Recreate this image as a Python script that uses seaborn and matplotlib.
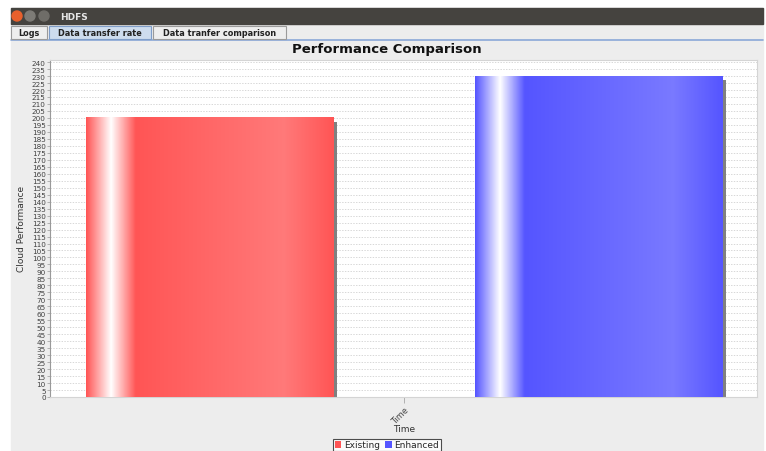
import numpy as np
import pandas as pd
import matplotlib
matplotlib.use("Agg")
import matplotlib.pyplot as plt
import seaborn as sns
from matplotlib.patches import Rectangle, Circle
from matplotlib.lines import Line2D
from matplotlib.transforms import offset_copy

# chart data
categories = ["Time"]
series = ["Existing", "Enhanced"]
values = [200, 230]
y_ticks = list(range(0, 245, 5))

red = "#ff5555"
blue = "#5555ff"

sns.set_style("white")
plt.rcParams['font.family'] = ['DejaVu Sans']

fig = plt.figure(figsize=(7.66, 4.52), dpi=100)
fig.patch.set_facecolor("white")

# window chrome, drawn in pixel coordinates
bg = fig.add_axes([0, 0, 1, 1])
bg.set_xlim(0, 766)
bg.set_ylim(452, 0)
bg.axis("off")
bg.add_patch(Rectangle((11, 9), 752, 450, color="#ededed", zorder=0))
bg.add_patch(Rectangle((11, 9), 752, 16, color="#45433f", zorder=1))
bg.add_patch(Circle((17, 17), 5, color="#e8602c", zorder=2))
bg.add_patch(Circle((30, 17), 5, color="#7d7b76", zorder=2))
bg.add_patch(Circle((44, 17), 5, color="#6f6d68", zorder=2))
bg.text(60, 17.5, "HDFS", color="#e6e6e6", fontsize=6.5, fontweight="bold",
        va="center", ha="left", zorder=3)

tabs = [("Logs", 11, 47, False), ("Data transfer rate", 49, 151, True),
        ("Data tranfer comparison", 153, 286, False)]
for label, x0, x1, sel in tabs:
    bg.add_patch(Rectangle((x0, 27), x1 - x0, 13,
                           facecolor="#cddcee" if sel else "#eeeeee",
                           edgecolor="#7f9dc8" if sel else "#9a9a9a",
                           lw=0.8, zorder=2))
    bg.text((x0 + x1) / 2, 33.5, label, fontsize=5.9, fontweight="bold",
            color="#222222", ha="center", va="center", zorder=3)
bg.add_line(Line2D([11, 763], [40.5, 40.5], color="#8aa8d8", lw=1.2, zorder=1))

# plot area
ax = fig.add_axes([50 / 766, 1 - 398 / 452, 707 / 766, 337 / 452])
ax.set_facecolor("white")

df = pd.DataFrame({"category": categories * len(series),
                   "series": series,
                   "value": values})

sns.barplot(data=df, x="category", y="value", hue="series", hue_order=series,
            palette=[red, blue], width=0.8, gap=0.365, saturation=1,
            legend=False, ax=ax, zorder=3, linewidth=0)

# gradient fill and shadow on each bar
stops = [0, 0.1, 0.2, 0.8, 1.0]
for patch, base in zip(ax.patches, [red, blue]):
    c0 = np.array(matplotlib.colors.to_rgb(base))
    c1 = np.minimum(c0 / 0.7, 1.0)
    white = np.ones(3)
    cols = np.array([c0, white, c0, c1, c0])
    t = np.linspace(0, 1, 300)
    grad = np.stack([np.interp(t, stops, cols[:, k]) for k in range(3)], axis=-1)
    x0, w, h = patch.get_x(), patch.get_width(), patch.get_height()
    ax.imshow(grad[None, :, :], extent=[x0, x0 + w, 0, h], aspect="auto",
              interpolation="bilinear", zorder=4)
    shadow_tr = offset_copy(ax.transData, fig=fig, x=4, y=-4, units="dots")
    ax.add_patch(Rectangle((x0, 0), w, h, transform=shadow_tr,
                           facecolor="#808080", lw=0, zorder=2.5))

ax.set_xlim(-0.364, 0.363)
ax.set_ylim(0, 241.5)
ax.set_aspect("auto")

ax.set_yticks(y_ticks)
ax.set_yticklabels([str(v) for v in y_ticks])
ax.tick_params(axis="y", labelsize=5.2, colors="#999999", length=2, width=0.5,
               pad=1, left=True)
ax.set_xticks([0])
ax.set_xticklabels(categories, rotation=45, ha="right", rotation_mode="anchor",
                   fontsize=5.8)
ax.tick_params(axis="x", length=4, width=0.5, colors="#999999", pad=2, bottom=True)
for lbl in ax.get_xticklabels() + ax.get_yticklabels():
    lbl.set_color("#404040")

ax.set_axisbelow(True)
ax.yaxis.grid(True, color="#c8c8c8", linestyle=(0, (2, 2)), lw=0.5)
ax.xaxis.grid(False)
for side in ["top", "right", "bottom"]:
    ax.spines[side].set_color("#d4d4d4")
    ax.spines[side].set_linewidth(0.8)
ax.spines["left"].set_color("#999999")
ax.spines["left"].set_linewidth(0.8)
ax.set_xlabel("")
ax.set_ylabel("")

# texts around the chart
fig.text(387 / 766, 1 - 49 / 452, "Performance Comparison", fontsize=9.5,
         fontweight="bold", ha="center", va="center", color="#111111")
fig.text(22 / 766, 1 - 229 / 452, "Cloud Performance", fontsize=6.5,
         rotation=90, ha="center", va="center", color="#333333")
fig.text(404 / 766, 1 - 430 / 452, "Time", fontsize=6.5, ha="center",
         va="center", color="#333333")

handles = [Rectangle((0, 0), 1, 1, facecolor=red, lw=0),
           Rectangle((0, 0), 1, 1, facecolor=blue, lw=0)]
leg = fig.legend(handles, series, loc="center", ncol=2,
                 bbox_to_anchor=(387 / 766, 1 - 446 / 452), fontsize=6.5,
                 frameon=True, fancybox=False, edgecolor="#222222",
                 handlelength=0.7, handleheight=0.7, handletextpad=0.3,
                 columnspacing=0.6, borderpad=0.2, borderaxespad=0)
leg.get_frame().set_linewidth(0.8)
leg.get_frame().set_facecolor("white")

fig.savefig("out.png", dpi=100)
